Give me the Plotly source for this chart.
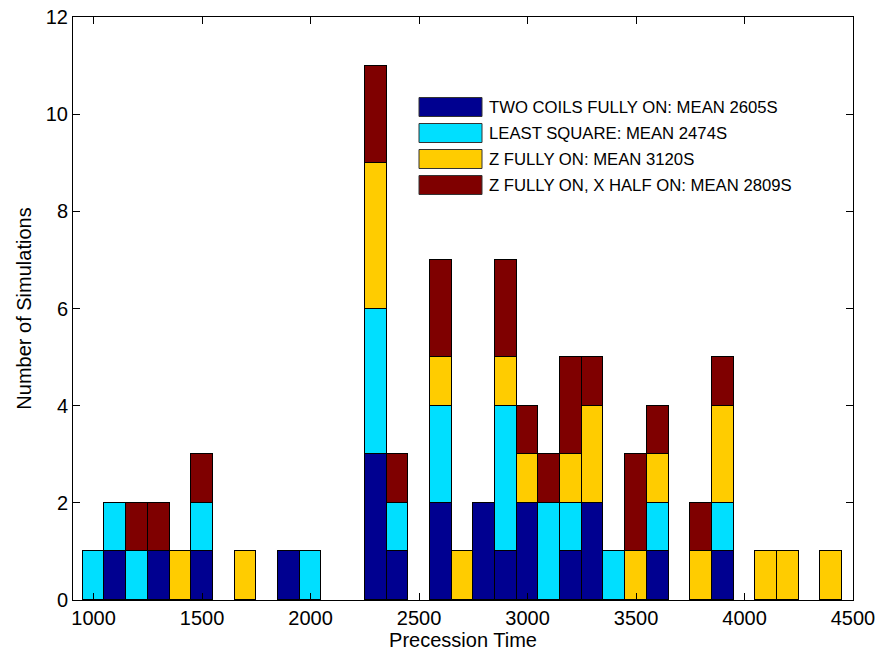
import plotly.graph_objects as go

# ---- data ----
bin_centers = [1000, 1100, 1200, 1300, 1400, 1500, 1600, 1700, 1800, 1900,
               2000, 2100, 2200, 2300, 2400, 2500, 2600, 2700, 2800, 2900,
               3000, 3100, 3200, 3300, 3400, 3500, 3600, 3700, 3800, 3900,
               4000, 4100, 4200, 4300, 4400]
two_coils =    [0, 1, 0, 1, 0, 1, 0, 0, 0, 1,
                0, 0, 0, 3, 1, 0, 2, 0, 2, 1,
                2, 0, 1, 2, 0, 0, 1, 0, 0, 1,
                0, 0, 0, 0, 0]
least_square = [1, 1, 1, 0, 0, 1, 0, 0, 0, 0,
                1, 0, 0, 3, 1, 0, 2, 0, 0, 3,
                0, 2, 1, 0, 1, 0, 1, 0, 0, 1,
                0, 0, 0, 0, 0]
z_fully_on =   [0, 0, 0, 0, 1, 0, 0, 1, 0, 0,
                0, 0, 0, 3, 0, 0, 1, 1, 0, 1,
                1, 0, 1, 2, 0, 1, 1, 0, 1, 2,
                0, 1, 1, 0, 1]
z_x_half =     [0, 0, 1, 1, 0, 1, 0, 0, 0, 0,
                0, 0, 0, 2, 1, 0, 2, 0, 0, 2,
                1, 1, 2, 1, 0, 2, 1, 0, 1, 1,
                0, 0, 0, 0, 0]
series_names = ["TWO COILS FULLY ON: MEAN 2605S",
                "LEAST SQUARE: MEAN 2474S",
                "Z FULLY ON: MEAN 3120S",
                "Z FULLY ON, X HALF ON: MEAN 2809S"]
series_colors = ["#000090", "#00DFFF", "#FFCC00", "#7F0000"]
x_ticks = [1000, 1500, 2000, 2500, 3000, 3500, 4000, 4500]
y_ticks = [0, 2, 4, 6, 8, 10, 12]
bin_width = 100

FONT = "Liberation Sans, Arial, sans-serif"
W, H = 879, 656
ML, MT = 73, 17
PW, PH = 780, 583
MR, MB = W - ML - PW, H - MT - PH

fig = go.Figure()
for name, vals, col in zip(series_names,
                           [two_coils, least_square, z_fully_on, z_x_half],
                           series_colors):
    fig.add_trace(go.Bar(
        x=bin_centers, y=[v if v else None for v in vals], width=bin_width,
        name=name, marker=dict(color=col, line=dict(color="black", width=1)),
        showlegend=False))

# manual legend (MATLAB-style wide patches, no box); coords in screen px
def px2paper_x(sx):
    return (sx - ML) / PW

def px2paper_y(sy):
    return (MT + PH - sy) / PH

row_y = [107, 133, 159, 185]
for name, col, yc in zip(series_names, series_colors, row_y):
    fig.add_shape(type="rect", xref="paper", yref="paper",
                  x0=px2paper_x(419), x1=px2paper_x(482),
                  y0=px2paper_y(yc + 9.5), y1=px2paper_y(yc - 9.5),
                  fillcolor=col, line=dict(color="#333333", width=1))
    fig.add_annotation(xref="paper", yref="paper", x=px2paper_x(487),
                       y=px2paper_y(yc), text=name, showarrow=False,
                       xanchor="left", yanchor="middle",
                       font=dict(family=FONT, size=16.7, color="black"))

axis_common = dict(showline=True, linecolor="black", linewidth=1,
                   mirror="ticks", ticks="inside", ticklen=7,
                   tickcolor="black", showgrid=False, zeroline=False,
                   automargin=False, ticklabeloverflow="allow",
                   tickfont=dict(family=FONT, size=20, color="black"))
fig.update_xaxes(range=[905, 4500], tickvals=x_ticks,
                 title=dict(text="Precession Time", standoff=4,
                            font=dict(family=FONT, size=20, color="black")),
                 **axis_common)
fig.update_yaxes(range=[0, 12], tickvals=y_ticks,
                 title=dict(text="Number of Simulations", standoff=8,
                            font=dict(family=FONT, size=20, color="black")),
                 **axis_common)
fig.update_layout(width=W, height=H, barmode="stack", bargap=0,
                  margin=dict(l=ML, r=MR, t=MT, b=MB, autoexpand=False),
                  plot_bgcolor="white", paper_bgcolor="white",
                  font=dict(family=FONT, color="black"))
fig.write_html("out.html", config={"displayModeBar": False},
               post_script="document.body.style.margin='0';"
                           "document.body.style.overflow='hidden';")
